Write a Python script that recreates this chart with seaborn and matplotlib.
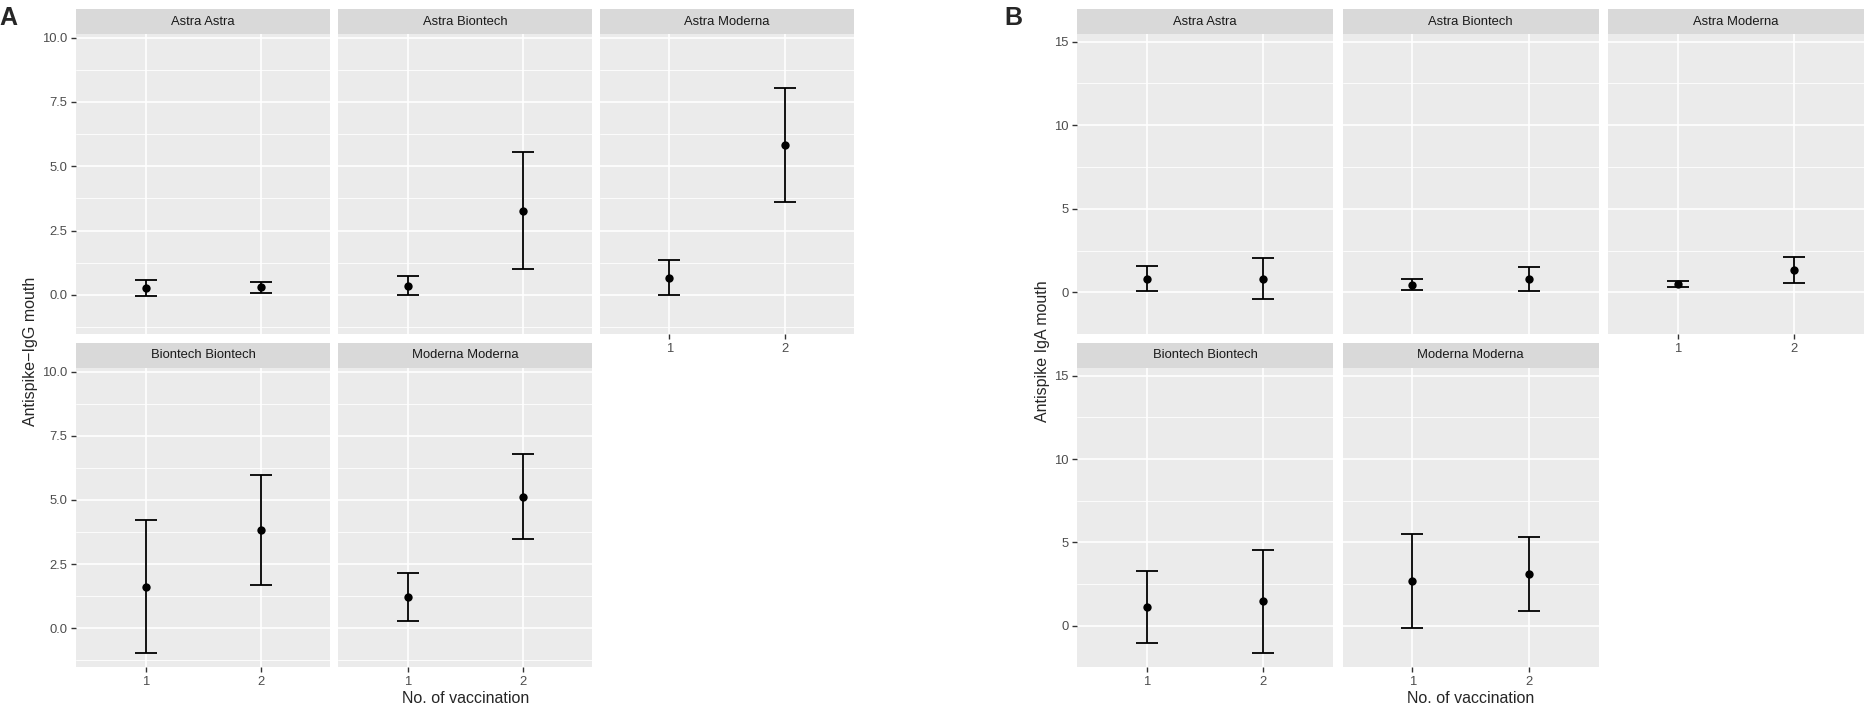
import numpy as np
import pandas as pd
import matplotlib
matplotlib.use('Agg')
import matplotlib.pyplot as plt
from matplotlib.ticker import FixedLocator
import seaborn as sns

sns.set_theme(style='white')
plt.rcParams['font.family'] = ['Liberation Sans', 'DejaVu Sans']

# facets and vaccination numbers
groups = ['Astra Astra', 'Astra Biontech', 'Astra Moderna', 'Biontech Biontech', 'Moderna Moderna']
doses = [1, 2]

# panel A: antispike IgG mouth (mean and error limits, dose 1 then dose 2 per group)
igg_mean = [0.25, 0.31, 0.36, 3.28, 0.67, 5.83, 1.60, 3.82, 1.20, 5.13]
igg_low = [-0.06, 0.09, 0.00, 1.00, 0.00, 3.61, -0.98, 1.69, 0.27, 3.49]
igg_high = [0.58, 0.52, 0.74, 5.57, 1.36, 8.03, 4.20, 5.97, 2.14, 6.80]

# panel B: antispike IgA mouth
iga_mean = [0.83, 0.83, 0.47, 0.83, 0.52, 1.31, 1.11, 1.47, 2.68, 3.08]
iga_low = [0.11, -0.42, 0.13, 0.11, 0.32, 0.55, -1.05, -1.65, -0.16, 0.87]
iga_high = [1.55, 2.06, 0.81, 1.54, 0.68, 2.09, 3.28, 4.57, 5.51, 5.31]

igg_ticks = [0.0, 2.5, 5.0, 7.5, 10.0]
igg_minor = [-1.25, 1.25, 3.75, 6.25, 8.75]
iga_ticks = [0, 5, 10, 15]
iga_minor = [2.5, 7.5, 12.5]

W, H = 1865, 705
fig = plt.figure(figsize=(W / 100, H / 100), dpi=100)


def make_df(mean, low, high):
    return pd.DataFrame({
        'group': np.repeat(groups, len(doses)),
        'dose': doses * len(groups),
        'mean': mean, 'low': low, 'high': high,
    })


def box(left, top, width, height):
    return [left / W, 1 - (top + height) / H, width / W, height / H]


def facet_panel(df, col_lefts, col_w, ylim, ticks, minor, fmt, ylabel, tag, tag_x):
    rows = [(9, 34.3, 334), (342.7, 368.3, 667.3)]
    for i, g in enumerate(groups):
        r, c = divmod(i, 3)
        s_top, p_top, p_bot = rows[r]
        left = col_lefts[c]
        ax = fig.add_axes(box(left, p_top, col_w, p_bot - p_top))
        sub = df[df.group == g]
        ax.set_facecolor('#EBEBEB')
        for sp in ax.spines.values():
            sp.set_visible(False)
        ax.set_axisbelow(True)
        ax.errorbar(sub['dose'], sub['mean'],
                    yerr=[sub['mean'] - sub['low'], sub['high'] - sub['mean']],
                    fmt='none', ecolor='black', elinewidth=1.3, capsize=8, capthick=1.3, zorder=3)
        sns.scatterplot(data=sub, x='dose', y='mean', color='black', s=36,
                        linewidth=0, ax=ax, zorder=4, legend=False)
        ax.set_xlim(0.4, 2.6)
        ax.set_ylim(*ylim)
        ax.set_xticks(doses)
        ax.set_yticks(ticks)
        ax.yaxis.set_minor_locator(FixedLocator(minor))
        ax.grid(which='major', color='white', linewidth=1.2)
        ax.grid(which='minor', axis='y', color='white', linewidth=0.6)
        ax.tick_params(which='major', length=3.8, width=1.0, color='#333333',
                       labelsize=9.4, labelcolor='#4D4D4D', pad=2.5,
                       left=(c == 0), bottom=(r == 1 or c == 2),
                       labelleft=(c == 0), labelbottom=(r == 1 or c == 2))
        ax.tick_params(which='minor', length=0)
        ax.set_yticklabels([fmt.format(t) for t in ticks])
        ax.set_xlabel('')
        ax.set_ylabel('')
        # strip on top
        sax = fig.add_axes(box(left, s_top, col_w, p_top - s_top))
        sax.set_facecolor('#D9D9D9')
        sax.set_xticks([])
        sax.set_yticks([])
        for sp in sax.spines.values():
            sp.set_visible(False)
        sax.text(0.5, 0.5, g, ha='center', va='center', fontsize=9.4,
                 color='#1A1A1A', transform=sax.transAxes)
    xmid = (col_lefts[0] + col_lefts[2] + col_w) / 2
    fig.text(xmid / W, 1.8 / H, 'No. of vaccination', ha='center', va='baseline', fontsize=11.5)
    fig.text(tag_x[1] / W, 1 - 351 / H, ylabel, rotation=90, ha='center', va='center', fontsize=11.5)
    fig.text(tag_x[0] / W, 1 - 25 / H, tag, ha='left', va='baseline', fontsize=18, fontweight='bold')


facet_panel(make_df(igg_mean, igg_low, igg_high), [76.3, 338.5, 600.2], 254,
            (-1.52, 10.13), igg_ticks, igg_minor, '{:.1f}', 'Antispike\u2212IgG mouth', 'A', (-0.5, 31))
facet_panel(make_df(iga_mean, iga_low, iga_high), [1077.2, 1342.5, 1607.8], 256,
            (-2.49, 15.44), iga_ticks, iga_minor, '{:d}', 'Antispike IgA mouth', 'B', (1004, 1042.5))

fig.savefig('out.png', dpi=100, facecolor='white')
